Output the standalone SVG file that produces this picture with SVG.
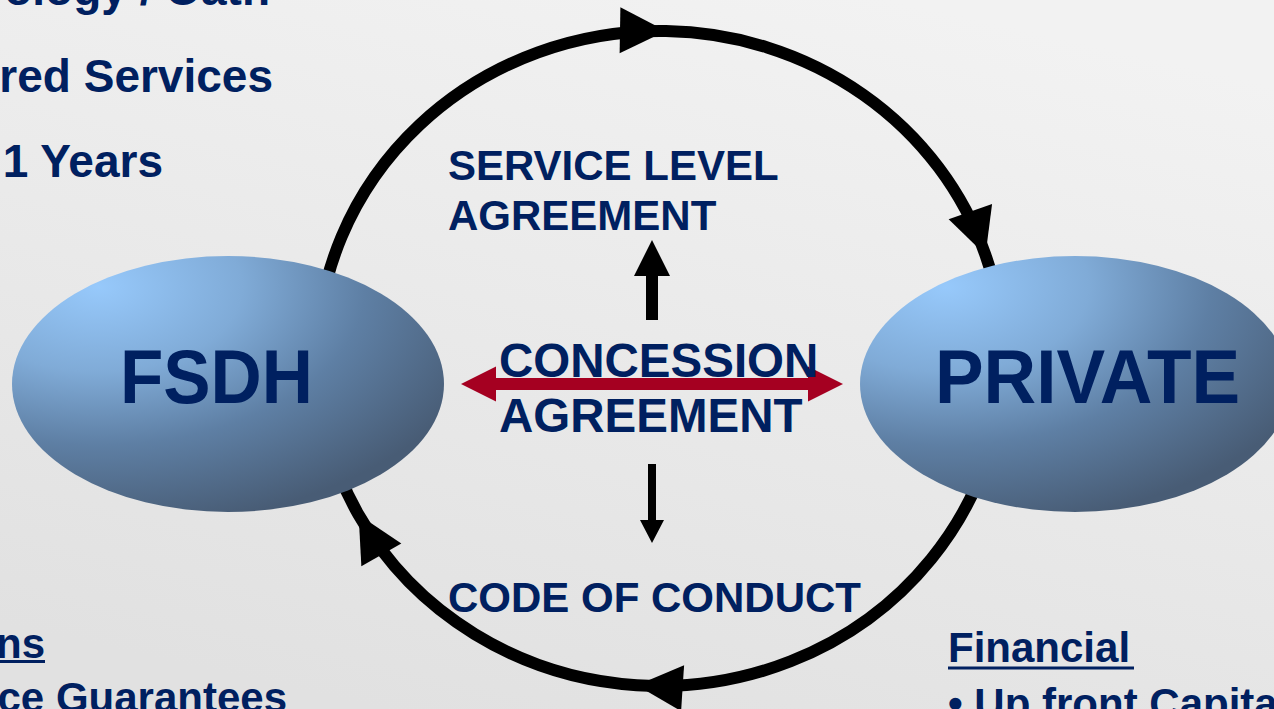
<svg xmlns="http://www.w3.org/2000/svg" width="1274" height="709" viewBox="0 0 1274 709">
  <defs>
    <linearGradient id="bg" x1="0.7" y1="0" x2="0.3" y2="1">
      <stop offset="0" stop-color="#f2f2f2"/>
      <stop offset="1" stop-color="#e1e1e1"/>
    </linearGradient>
    <radialGradient id="blob" cx="0.2" cy="0.12" r="0.95" fx="0.2" fy="0.12">
      <stop offset="0" stop-color="#97c9fb"/>
      <stop offset="0.35" stop-color="#80abd7"/>
      <stop offset="0.65" stop-color="#5e7fa4"/>
      <stop offset="1" stop-color="#485c75"/>
    </radialGradient>
    <marker id="cycleHead" markerUnits="userSpaceOnUse" orient="auto" viewBox="-50 -25 52 50" refX="0" refY="0" markerWidth="52" markerHeight="50" overflow="visible">
      <polygon points="0,0 -46,-23 -46,23" fill="#000"/>
    </marker>
    <style>
      .txt { font-family: "Liberation Sans", Arial, sans-serif; font-weight: bold; fill: #002060; }
      .side { font-size: 46px; }
      .side2 { font-size: 42px; }
      .mid { font-size: 42px; }
      .big { font-size: 47.5px; }
      .node { font-size: 76px; }
      .blob { fill: url(#blob); }
    </style>
  </defs>

  <!-- slide background -->
  <rect x="0" y="0" width="1274" height="709" fill="url(#bg)"/>

  <!-- side bullet text, clipped by the frame -->
  <g id="side-text" class="txt">
    <text class="side" x="270" y="5" text-anchor="end">ology / Oath</text>
    <text class="side" x="273" y="92" text-anchor="end">red Services</text>
    <text class="side" x="163" y="177" text-anchor="end">1 Years</text>
    <text class="side2" x="45" y="658" text-anchor="end">ns</text>
    <rect x="0" y="660" width="45" height="3" fill="#002060"/>
    <text class="side2" x="287" y="712" text-anchor="end">ce Guarantees</text>
    <text class="side2" x="948" y="662">Financial</text>
    <rect x="948" y="666.5" width="186" height="3" fill="#002060"/>
    <text class="side2" x="948" y="718">• Up front Capita</text>
  </g>

  <!-- connectors -->
  <g id="connectors">
    <!-- clockwise cycle with four arrowheads -->
    <path d="M317,358.5 A343,327.5 0 0 1 666,31.05 A343,327.5 0 0 1 985.5,255.1 A343,327.5 0 0 1 636.7,685.2 A343,327.5 0 0 1 358.6,514.8 A343,327.5 0 0 1 317,358.5" fill="none" stroke="#000" stroke-width="12" marker-mid="url(#cycleHead)"/>
    <!-- concession double arrow -->
    <polygon points="461,384 496,366.5 496,378 808,378 808,366.5 843,384 808,401.5 808,390 496,390 496,401.5" fill="#a50021"/>
    <!-- up to service level agreement -->
    <polygon points="652,240 670,276 658,276 658,320 646,320 646,276 634,276" fill="#000"/>
    <!-- down to code of conduct -->
    <polygon points="648,464 656,464 656,520 664,520 652,543 640,520 648,520" fill="#000"/>
  </g>

  <g id="node-fsdh">
    <ellipse class="blob" cx="228" cy="384" rx="216" ry="128"/>
    <text class="txt node" x="216.5" y="403" text-anchor="middle" textLength="193" lengthAdjust="spacingAndGlyphs">FSDH</text>
  </g>

  <g id="node-private">
    <ellipse class="blob" cx="1075" cy="384" rx="215" ry="128"/>
    <text class="txt node" x="1087.5" y="403" text-anchor="middle" textLength="305" lengthAdjust="spacingAndGlyphs">PRIVATE</text>
  </g>

  <g id="label-concession" class="txt big">
    <text x="499" y="377">CONCESSION</text>
    <text x="499" y="432">AGREEMENT</text>
  </g>

  <g id="label-sla" class="txt mid">
    <text x="448" y="180">SERVICE LEVEL</text>
    <text x="448" y="230">AGREEMENT</text>
  </g>

  <g id="label-conduct" class="txt mid">
    <text x="448" y="612">CODE OF CONDUCT</text>
  </g>
</svg>
